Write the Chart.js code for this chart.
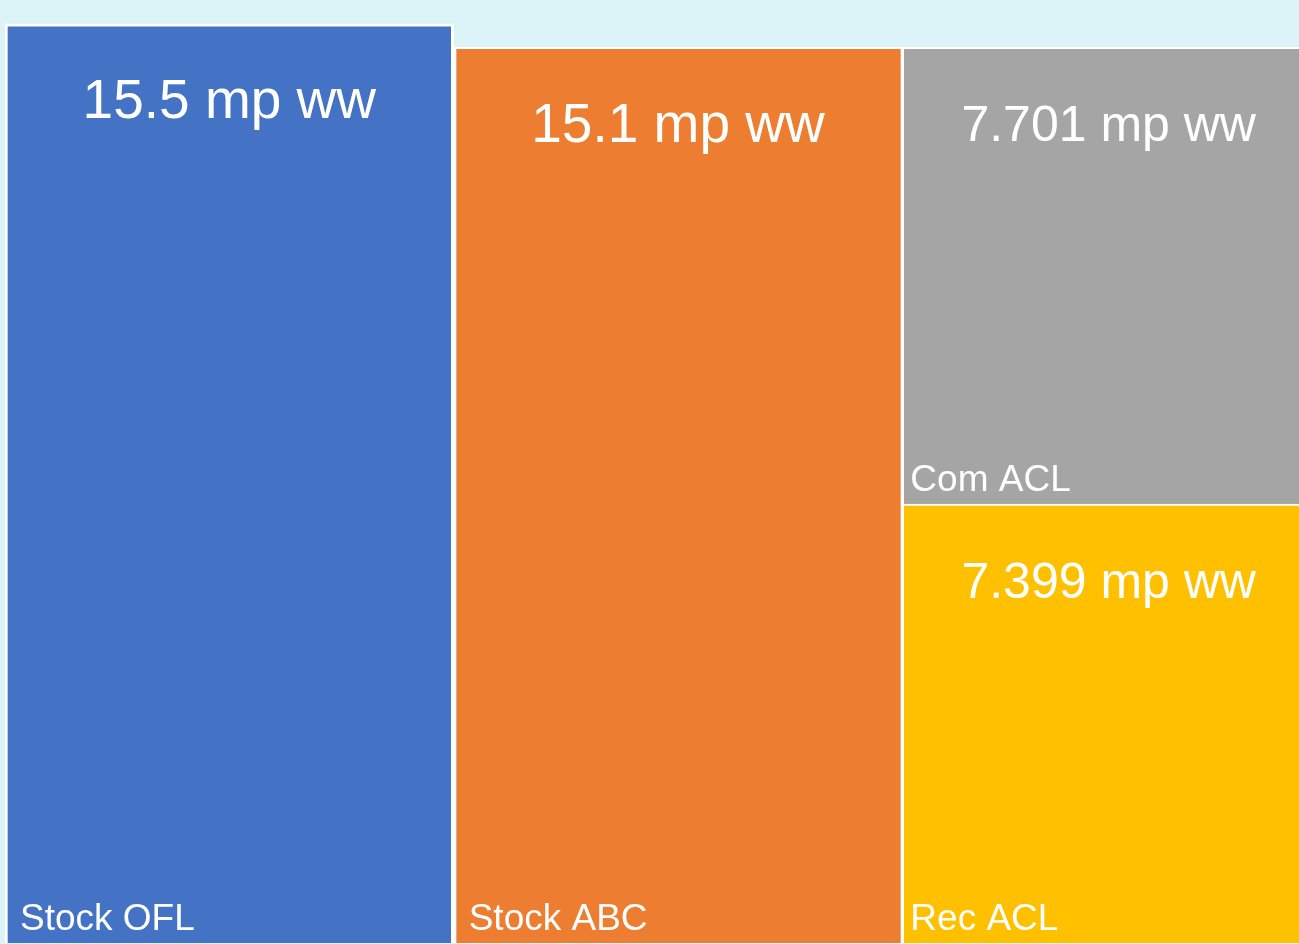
<!DOCTYPE html>
<html>
<head>
<meta charset="utf-8">
<script src="https://cdn.jsdelivr.net/npm/chart.js@4/dist/chart.umd.min.js"></script>
<style>
  html, body { margin: 0; padding: 0; overflow: hidden; background: #dcf3f7; }
  #wrap { width: 1351px; height: 944px; position: relative; }
</style>
</head>
<body>
<div id="wrap"><canvas id="c"></canvas></div>
<script>
// Data
const categories = ['Stock OFL', 'Stock ABC', 'ACL'];
const stockOFL = [15.5, null, null];
const stockABC = [null, 15.1, null];
const recACL   = [null, null, 7.399];
const comACL   = [null, null, 7.701];
const valueLabels = ['15.5 mp ww', '15.1 mp ww', '7.399 mp ww', '7.701 mp ww'];
const seriesNames = ['Stock OFL', 'Stock ABC', 'Rec ACL', 'Com ACL'];

const labelPlugin = {
  id: 'boxLabels',
  afterDatasetsDraw(chart) {
    const ctx = chart.ctx;
    const visibleRight = Math.min(chart.chartArea.right, window.innerWidth);
    ctx.save();
    ctx.fillStyle = '#ffffff';
    chart.data.datasets.forEach((ds, i) => {
      const meta = chart.getDatasetMeta(i);
      meta.data.forEach((el, j) => {
        if (ds.data[j] == null) return;
        const left = el.x - el.width / 2;
        const right = Math.min(el.x + el.width / 2, visibleRight);
        const top = Math.min(el.y, el.base);
        const bottom = Math.max(el.y, el.base);
        const big = ds.bigLabel;
        // value label
        ctx.font = (big ? '55px' : '50px') + ' "Liberation Sans", Arial, sans-serif';
        ctx.textAlign = 'center';
        ctx.textBaseline = 'middle';
        ctx.fillText(valueLabels[i], (left + right) / 2 + (big ? 0 : 8), top + (big ? 79 : 80));
        // category label
        ctx.font = '37px "Liberation Sans", Arial, sans-serif';
        ctx.textAlign = 'left';
        ctx.textBaseline = 'alphabetic';
        ctx.fillText(seriesNames[i], left + (big ? 15 : 8), bottom - 13);
      });
    });
    ctx.restore();
  }
};

new Chart(document.getElementById('c'), {
  type: 'bar',
  data: {
    labels: categories,
    datasets: [
      { label: seriesNames[0], data: stockOFL, backgroundColor: '#4472c4', borderColor: '#ffffff', borderWidth: 3, bigLabel: true },
      { label: seriesNames[1], data: stockABC, backgroundColor: '#ed7d31', borderColor: '#ffffff', borderWidth: { left: 3, right: 2, top: 2, bottom: 2 }, bigLabel: true },
      { label: seriesNames[2], data: recACL, backgroundColor: '#ffc000', borderColor: '#ffffff', borderWidth: 2, bigLabel: false },
      { label: seriesNames[3], data: comACL, backgroundColor: '#a5a5a5', borderColor: '#ffffff', borderWidth: 2, bigLabel: false }
    ]
  },
  options: {
    responsive: true,
    maintainAspectRatio: false,
    animation: false,
    datasets: { bar: { barPercentage: 1, categoryPercentage: 1 } },
    layout: { padding: { left: 5, right: 0, top: 0, bottom: 1 } },
    plugins: { legend: { display: false }, tooltip: { enabled: false } },
    scales: {
      x: { stacked: true, display: false, grid: { display: false } },
      y: { stacked: true, display: false, min: 0, max: 15.9, grid: { display: false } }
    }
  },
  plugins: [labelPlugin]
});
</script>
</body>
</html>
